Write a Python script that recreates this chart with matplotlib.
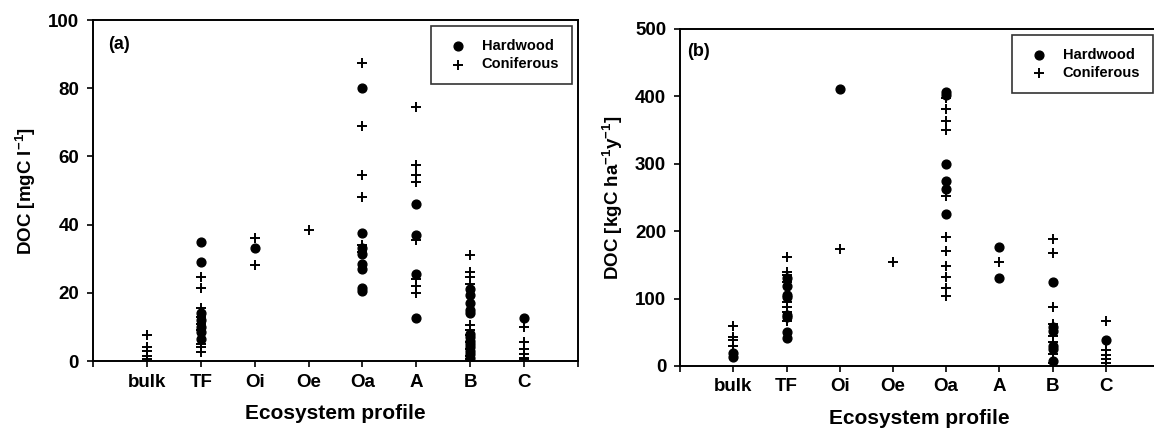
import numpy as np
import matplotlib
matplotlib.use("Agg")
import matplotlib.pyplot as plt

plt.rcParams['font.family'] = ['Liberation Sans', 'DejaVu Sans']
plt.rcParams['font.weight'] = 'bold'
plt.rcParams['mathtext.fontset'] = 'custom'
plt.rcParams['mathtext.rm'] = 'Liberation Sans:bold'
plt.rcParams['mathtext.it'] = 'Liberation Sans:bold'
plt.rcParams['mathtext.bf'] = 'Liberation Sans:bold'

categories = ['bulk', 'TF', 'Oi', 'Oe', 'Oa', 'A', 'B', 'C']

# panel (a) DOC concentration [mgC/l]
conc_hard = {
    'bulk': [],
    'TF': [35, 29, 14, 12, 10, 8.5, 6.5],
    'Oi': [33],
    'Oe': [],
    'Oa': [80, 37.5, 33, 31.5, 28.5, 27, 21.5, 20.5],
    'A': [46, 37, 25.5, 12.5],
    'B': [21, 19.5, 17, 15, 14, 8, 7, 6, 5, 4, 3, 2, 1],
    'C': [12.5],
}
conc_conif = {
    'bulk': [7.5, 4.0, 3.0, 1.5, 0.5],
    'TF': [24.5, 21.5, 15.5, 13, 11, 9, 5, 4, 2.5],
    'Oi': [36, 28.3],
    'Oe': [38.4],
    'Oa': [87.5, 69, 54.5, 48, 34, 32],
    'A': [74.5, 57.5, 54.5, 52.5, 35.5, 24, 22, 20],
    'B': [31, 26, 24.5, 22.5, 10.5, 9, 7.5, 5.5, 3.5, 1.5, 0.5],
    'C': [10, 5.5, 3.5, 2, 1, 0.5],
}

# panel (b) DOC flux [kgC/ha/y]
flux_hard = {
    'bulk': [20, 14],
    'TF': [130, 118, 105, 103, 75, 72, 50, 42],
    'Oi': [411],
    'Oe': [],
    'Oa': [407, 402, 300, 274, 263, 226],
    'A': [177, 130],
    'B': [124, 58, 52, 30, 25, 8],
    'C': [38],
}
flux_conif = {
    'bulk': [59, 43, 38, 30],
    'TF': [161, 140, 135, 125, 95, 88, 80, 67],
    'Oi': [173],
    'Oe': [155],
    'Oa': [398, 381, 363, 350, 252, 191, 170, 149, 132, 115, 104],
    'A': [155],
    'B': [189, 167, 87, 62, 45, 35, 18, 5],
    'C': [66, 24, 17, 11, 4],
}


def draw_panel(ax, hard, conif, ymax, ystep, ylabel, tag, tag_xy):
    for i, c in enumerate(categories):
        x = i + 1
        if hard[c]:
            ax.scatter([x] * len(hard[c]), hard[c], marker='o', s=40,
                       color='black', zorder=3,
                       label='Hardwood' if i == 1 else None)
        if conif[c]:
            ax.scatter([x] * len(conif[c]), conif[c], marker='+', s=60,
                       color='black', linewidths=1.4, zorder=3,
                       label='Coniferous' if i == 0 else None)
    ax.set_xlim(0, 9)
    ax.set_ylim(0, ymax)
    ax.set_xticks(np.arange(0, 10))
    ax.set_xticklabels([''] + categories + [''], fontsize=13.5, fontweight='bold')
    ax.set_yticks(np.arange(0, ymax + 1, ystep))
    ax.tick_params(axis='both', direction='out', length=4, width=1.2,
                   labelsize=13.5)
    ax.tick_params(axis='x', pad=5)
    ax.tick_params(axis='y', pad=6)
    for lab in ax.get_yticklabels():
        lab.set_fontweight('bold')
    for sp in ax.spines.values():
        sp.set_linewidth(1.4)
    ax.set_xlabel('Ecosystem profile', fontsize=15, fontweight='bold', labelpad=10)
    ax.set_ylabel(ylabel, fontsize=13.5, fontweight='bold', labelpad=7)
    ax.text(tag_xy[0], tag_xy[1], tag, transform=ax.transAxes, fontsize=13,
            fontweight='bold', va='center', ha='left')
    h, l = ax.get_legend_handles_labels()
    order = [l.index('Hardwood'), l.index('Coniferous')]
    leg = ax.legend([h[k] for k in order], [l[k] for k in order],
                    loc='upper right', frameon=True, fancybox=False,
                    edgecolor='black', borderpad=0.9, handlelength=1.9,
                    handletextpad=0.7, borderaxespad=0.4, labelspacing=0.3,
                    prop={'weight': 'bold', 'size': 10.5})
    leg.get_frame().set_linewidth(1.2)


fig = plt.figure(figsize=(11.54, 4.28), dpi=100)
ax1 = fig.add_axes([0.0806, 0.1565, 0.4203, 0.7967])
ax2 = fig.add_axes([0.5893, 0.1449, 0.4151, 0.7874])

draw_panel(ax1, conc_hard, conc_conif, 100, 20, r'DOC [mgC l$^{-1}$]',
           '(a)', (0.031, 0.927))
draw_panel(ax2, flux_hard, flux_conif, 500, 100,
           r'DOC [kgC ha$^{-1}$y$^{-1}$]', '(b)', (0.015, 0.932))

fig.savefig('out.png', dpi=100)
